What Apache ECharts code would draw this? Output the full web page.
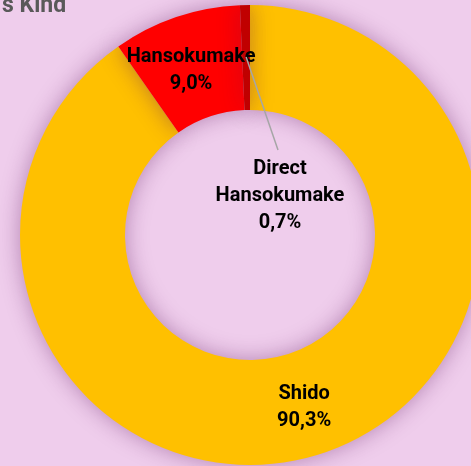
<!DOCTYPE html>
<html>
<head>
<meta charset="utf-8">
<script src="https://cdn.jsdelivr.net/npm/echarts@6/dist/echarts.min.js"></script>
<style>
  html, body { margin: 0; padding: 0; background: #efcdec; }
  #chart { width: 471px; height: 466px; }
</style>
</head>
<body>
<div id="chart"></div>
<script>
// penalty kinds, clockwise from the top
const kinds = ['Shido', 'Hansokumake', 'Direct\nHansokumake']
const shares = [90.3, 9.0, 0.7]
const sliceColors = ['#ffc000', '#ff0000', '#c00000']

const chart = echarts.init(document.getElementById('chart'))

const cx = 250, cy = 235, rIn = 125, rOut = 230

const labelText = {
  formatter: p => p.name + '\n' + p.value.toFixed(1).replace('.', ',') + '%',
  fontFamily: 'Roboto',
  fontSize: 20,
  fontWeight: 'bold',
  lineHeight: 27,
  color: '#000'
}

// visible slices, labels for the two big ones
const mainData = kinds.map((name, i) => ({
  name: name,
  value: shares[i],
  itemStyle: { color: sliceColors[i] },
  label: { show: i < 2, offset: i === 1 ? [-1, 6] : [0, 0] }
}))

// transparent copy on top, only carries the small slice label + leader line
const overlayData = kinds.map((name, i) => ({
  name: name,
  value: shares[i],
  label: { show: i === 2 },
  labelLine: { show: i === 2 }
}))

chart.setOption({
  backgroundColor: '#efcdec',
  title: {
    text: 's Kind',
    left: -3,
    top: -10,
    textStyle: { fontFamily: 'Roboto', fontSize: 23, fontWeight: 'bold', color: '#595959' }
  },
  series: [
    {
      type: 'pie',
      center: [cx, cy],
      radius: [rIn, rOut],
      startAngle: 90,
      clockwise: true,
      avoidLabelOverlap: false,
      silent: true,
      itemStyle: {
        shadowBlur: 22,
        shadowColor: 'rgba(90, 20, 90, 0.4)'
      },
      label: Object.assign({ position: 'inside' }, labelText),
      labelLine: { show: false },
      data: mainData
    },
    {
      type: 'pie',
      z: 5,
      center: [cx, cy],
      radius: [rIn, rOut],
      startAngle: 90,
      clockwise: true,
      avoidLabelOverlap: false,
      silent: true,
      itemStyle: { color: 'rgba(0,0,0,0)' },
      label: Object.assign({ position: 'outside' }, labelText),
      labelLine: { lineStyle: { color: '#a6a6a6', width: 1.5 } },
      labelLayout: p => {
        if (p.dataIndex !== 2) return {}
        // mid angle of the small slice, clockwise from the top
        const mid = (1 - shares[2] / 200) * 2 * Math.PI
        const r = 178
        const sx = cx + r * Math.sin(mid)
        const sy = cy - r * Math.cos(mid)
        return {
          x: 280,
          y: 196,
          align: 'center',
          verticalAlign: 'middle',
          labelLinePoints: [[sx, sy], [278, 150], [278, 150]]
        }
      },
      data: overlayData
    }
  ]
})
</script>
</body>
</html>
